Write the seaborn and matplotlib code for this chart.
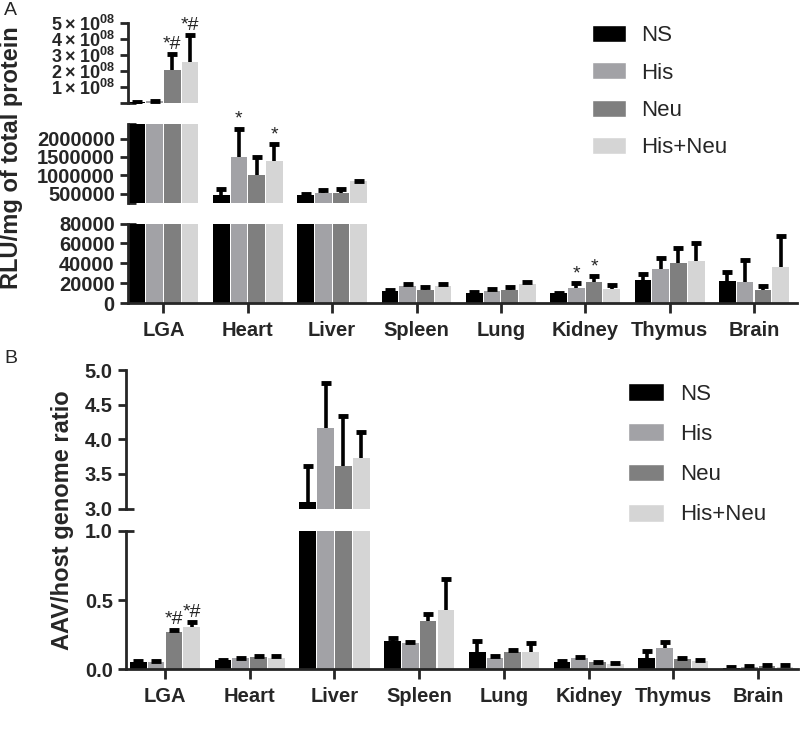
import numpy as np
import pandas as pd
import seaborn as sns
import matplotlib.pyplot as plt
from matplotlib.patches import Patch
from matplotlib.ticker import FixedLocator

organs = ["LGA", "Heart", "Liver", "Spleen", "Lung", "Kidney", "Thymus", "Brain"]
groups = ["NS", "His", "Neu", "His+Neu"]
colors = ["#000000", "#a2a2a6", "#7f7f7f", "#d5d5d5"]

# Panel A: RLU/mg of total protein (mean + upper SD)
rlu_ns = [8e6, 4.65e5, 4.5e5, 12500, 10700, 10300, 23300, 22600]
rlu_his = [1.2e7, 1.51e6, 5.2e5, 17400, 12000, 15800, 34300, 21500]
rlu_neu = [2.1e8, 1.0e6, 5.1e5, 13400, 13400, 21500, 40400, 13800]
rlu_hisneu = [2.55e8, 1.4e6, 8.3e5, 17400, 18900, 14300, 42100, 36300]
rlu_ns_sd = [2e6, 1.65e5, 4.5e4, 1200, 800, 500, 6100, 9200]
rlu_his_sd = [4e6, 7.6e5, 7e4, 2200, 2000, 4100, 11300, 22200]
rlu_neu_sd = [9.5e7, 5.0e5, 1.05e5, 2600, 3400, 5500, 15300, 3400]
rlu_hisneu_sd = [1.7e8, 4.4e5, 2.5e4, 1600, 2600, 3700, 18700, 31600]

# Panel B: AAV/host genome ratio (mean + upper SD)
aav_ns = [0.055, 0.065, 3.1, 0.204, 0.127, 0.055, 0.084, 0.012]
aav_his = [0.055, 0.08, 4.16, 0.187, 0.079, 0.079, 0.151, 0.02]
aav_neu = [0.27, 0.09, 3.62, 0.348, 0.127, 0.05, 0.072, 0.025]
aav_hisneu = [0.307, 0.085, 3.73, 0.427, 0.127, 0.036, 0.06, 0.02]
aav_ns_sd = [0.005, 0.004, 0.52, 0.025, 0.077, 0.003, 0.048, 0.002]
aav_his_sd = [0.006, 0.004, 0.65, 0.013, 0.016, 0.011, 0.049, 0.004]
aav_neu_sd = [0.015, 0.005, 0.72, 0.052, 0.013, 0.005, 0.012, 0.004]
aav_hisneu_sd = [0.033, 0.01, 0.37, 0.228, 0.06, 0.006, 0.007, 0.008]

# significance marks: (organ, group, text)
sig_a = [("LGA", "Neu", "*#"), ("LGA", "His+Neu", "*#"),
         ("Heart", "His", "*"), ("Heart", "His+Neu", "*"),
         ("Kidney", "His", "*"), ("Kidney", "Neu", "*")]
sig_b = [("LGA", "Neu", "*#"), ("LGA", "His+Neu", "*#")]

sns.set_theme(style="ticks")
plt.rcParams['font.family'] = ['Liberation Sans', 'DejaVu Sans']
plt.rcParams['font.weight'] = 'bold'
plt.rcParams['mathtext.default'] = 'regular'


def long_form(series):
    rows = []
    for g, vals in zip(groups, series):
        for o, v in zip(organs, vals):
            rows.append((o, g, v))
    return pd.DataFrame(rows, columns=["organ", "group", "value"])


fig = plt.figure(figsize=(8, 7.45), dpi=100)
W, H = 800, 745


def add_ax(left, top, right, bottom):
    return fig.add_axes([left / W, (H - bottom) / H, (right - left) / W, (bottom - top) / H])


def draw_segment(ax, series, sds, sig, ylim, ticks, labels, xlim, breaks, show_x,
                 tick_size=14.5):
    df = long_form(series)
    sns.barplot(data=df, x="organ", y="value", hue="group", order=organs,
                hue_order=groups, palette=colors, saturation=1, width=0.84,
                gap=0.06, errorbar=None, legend=False, linewidth=0, ax=ax)
    lo, hi = ylim
    thresh = lo + 0.01 * (hi - lo)
    for cont, g, vals, sd in zip(ax.containers, groups, series, sds):
        xs = np.array([p.get_x() + p.get_width() / 2 for p in cont])
        vals = np.array(vals)
        sd = np.array(sd)
        tops = vals + sd
        keep = tops > thresh
        ax.errorbar(xs[keep], vals[keep], yerr=[np.zeros(keep.sum()), sd[keep]],
                    fmt="none", ecolor="black", elinewidth=2.6, capsize=0)
        ax.plot(xs[keep], tops[keep], ls="none", marker="_", ms=7, mew=3.5,
                color="black")
        for o, gg, txt in sig:
            if gg == g:
                i = organs.index(o)
                if thresh < tops[i] < hi:
                    ax.annotate(txt, xy=(xs[i], tops[i]), xytext=(0, 1),
                                textcoords="offset points", ha="center", va="bottom",
                                fontsize=14, fontweight="normal", annotation_clip=False)
    ax.set_ylim(*ylim)
    ax.set_xlim(*xlim)
    ax.set_yticks(ticks)
    ax.set_yticklabels(labels, fontsize=tick_size, fontweight="bold")
    ax.yaxis.set_minor_locator(FixedLocator(breaks))
    ax.yaxis.remove_overlapping_locs = False
    ax.tick_params(axis="y", which="major", direction="out", length=6, width=2, pad=3.5)
    ax.tick_params(axis="y", which="minor", direction="in", length=6, width=2)
    ax.set_xlabel("")
    ax.set_ylabel("")
    for s in ["top", "right"]:
        ax.spines[s].set_visible(False)
    ax.spines["left"].set_linewidth(2)
    ax.spines["bottom"].set_linewidth(2)
    if show_x:
        ax.tick_params(axis="x", direction="out", length=7, width=2, pad=6, labelsize=14.5)
        for t in ax.get_xticklabels():
            t.set_fontweight("bold")
    else:
        ax.spines["bottom"].set_visible(False)
        ax.tick_params(axis="x", bottom=False, labelbottom=False)
    ax.set_facecolor("white")


rlu = [rlu_ns, rlu_his, rlu_neu, rlu_hisneu]
rlu_sd = [rlu_ns_sd, rlu_his_sd, rlu_neu_sd, rlu_hisneu_sd]
aav = [aav_ns, aav_his, aav_neu, aav_hisneu]
aav_sd = [aav_ns_sd, aav_his_sd, aav_neu_sd, aav_hisneu_sd]

xlim_a = (-0.42, 7.51)
ax1 = add_ax(128, 23, 797, 103.3)
draw_segment(ax1, rlu, rlu_sd, sig_a, (0, 5e8), [0, 1e8, 2e8, 3e8, 4e8, 5e8],
             ["", r"$1\times10^{08}$", r"$2\times10^{08}$", r"$3\times10^{08}$",
              r"$4\times10^{08}$", r"$5\times10^{08}$"], xlim_a, [0], False, tick_size=13)
ax2 = add_ax(128, 124, 797, 202.7)
draw_segment(ax2, rlu, rlu_sd, sig_a, (2.5e5, 2.4e6), [5e5, 1e6, 1.5e6, 2e6],
             ["500000", "1000000", "1500000", "2000000"], xlim_a, [2.5e5, 2.4e6], False)
ax3 = add_ax(128, 223.5, 797, 303.3)
draw_segment(ax3, rlu, rlu_sd, sig_a, (0, 80000), [0, 20000, 40000, 60000, 80000],
             ["0", "20000", "40000", "60000", "80000"], xlim_a, [80000], True)

xlim_b = (-0.46, 7.47)
ax4 = add_ax(126, 370, 798, 508.5)
draw_segment(ax4, aav, aav_sd, sig_b, (3.0, 5.0), [3.0, 3.5, 4.0, 4.5, 5.0],
             ["3.0", "3.5", "4.0", "4.5", "5.0"], xlim_b, [3.0], False)
ax5 = add_ax(126, 530.7, 798, 669.3)
draw_segment(ax5, aav, aav_sd, sig_b, (0, 1.0), [0, 0.5, 1.0],
             ["0.0", "0.5", "1.0"], xlim_b, [1.0], True)

# axis titles and panel letters
fig.text(12 / W, 1 - 158 / H, "RLU/mg of total protein", rotation=90, ha="center",
         va="center", fontsize=17, fontweight="bold")
fig.text(62 / W, 1 - 520 / H, "AAV/host genome ratio", rotation=90, ha="center",
         va="center", fontsize=17, fontweight="bold")
fig.text(4 / W, 1 - 2 / H, "A", ha="left", va="top", fontsize=14, fontweight="normal")
fig.text(4 / W, 1 - 350 / H, "B", ha="left", va="top", fontsize=14, fontweight="normal")

handles = [Patch(facecolor=c, label=g) for c, g in zip(colors, groups)]
fig.legend(handles=handles, loc="upper left", bbox_to_anchor=(592 / W, 1 - 25 / H),
           frameon=False, borderpad=0, borderaxespad=0,
           handlelength=1.55, handleheight=0.81, handletextpad=0.65, labelspacing=0.72,
           prop={"weight": "normal", "size": 16})
fig.legend(handles=handles, loc="upper left", bbox_to_anchor=(628 / W, 1 - 383 / H),
           frameon=False, borderpad=0, borderaxespad=0,
           handlelength=1.62, handleheight=0.86, handletextpad=0.72, labelspacing=0.84,
           prop={"weight": "normal", "size": 16})

fig.savefig("out.png", dpi=100, facecolor="white")
